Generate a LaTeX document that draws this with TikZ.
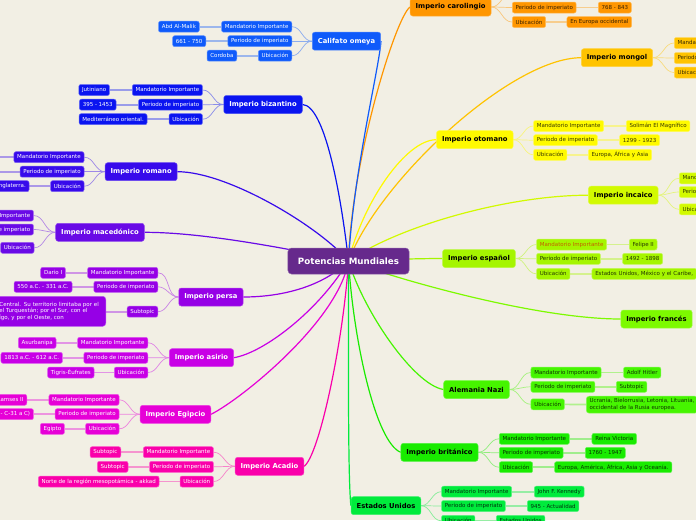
\documentclass[tikz,border=0pt]{standalone}
\usepackage{fontspec}
\setmainfont{DejaVu Sans}
\usetikzlibrary{backgrounds}
\definecolor{bgc}{RGB}{242,239,228}
\definecolor{cCen}{RGB}{102,41,140}
\definecolor{cOme}{RGB}{15,90,250}
\definecolor{cBiz}{RGB}{10,20,240}
\definecolor{cRom}{RGB}{55,10,235}
\definecolor{cMac}{RGB}{105,10,230}
\definecolor{cPer}{RGB}{150,0,230}
\definecolor{cAsi}{RGB}{200,0,230}
\definecolor{cEgi}{RGB}{230,0,215}
\definecolor{cAca}{RGB}{250,0,170}
\definecolor{cCar}{RGB}{255,150,0}
\definecolor{cMon}{RGB}{255,195,0}
\definecolor{cOto}{RGB}{255,250,0}
\definecolor{cInc}{RGB}{210,250,0}
\definecolor{cEsp}{RGB}{165,245,0}
\definecolor{cFra}{RGB}{125,250,0}
\definecolor{cAle}{RGB}{70,245,0}
\definecolor{cBri}{RGB}{25,235,0}
\definecolor{cEEU}{RGB}{0,235,60}
\definecolor{cOrT}{RGB}{195,95,0}
\begin{document}
\begin{tikzpicture}[x=1pt,y=-1pt,
  mainbox/.style={fill=#1, draw=#1!75!white, line width=0.5pt, rounded corners=2.5pt,
    font=\fontsize{6.8}{8}\selectfont\bfseries, minimum height=18pt, inner xsep=5.5pt, inner ysep=1pt},
  subbox/.style={fill=#1, draw=#1!65!white, line width=0.5pt, rounded corners=2pt,
    font=\fontsize{5.5}{6.7}\selectfont, minimum height=11pt, inner xsep=3.3pt, inner ysep=1pt},
  cen/.style={fill=cCen, draw=cCen!75!white, line width=0.5pt, rounded corners=3.5pt, text=white,
    font=\fontsize{8.7}{10}\selectfont\bfseries, minimum height=26pt, inner xsep=10pt},
  Lm/.style={mainbox=#1, text=white},
  Ls/.style={subbox=#1, text=white, anchor=east},
  Rm/.style={mainbox=#1, text=black},
  Rs/.style={subbox=#1, text=black!78!#1, anchor=west},
  mainline/.style={draw=#1, line width=1.2pt},
  subline/.style={draw=#1!45!bgc, line width=0.7pt},
  leafline/.style={draw=#1!38!bgc, line width=1.7pt}
]
\useasboundingbox (0,0) rectangle (696,520);

\node[cen] (c) at (348.5,261) {Potencias Mundiales};

% ---------- left side ----------
\node[Lm=cOme] (co) at (346.5,41.2) {Califato omeya};
\node[Ls=cOme] (co1) at (292,26.7) {Mandatorio Importante};
\node[Ls=cOme] (co2) at (292,41.2) {Periodo de imperiato};
\node[Ls=cOme] (co3) at (292,55.7) {Ubicación};
\node[Ls=cOme] (co1l) at (199.5,26.7) {Abd Al-Malik};
\node[Ls=cOme] (co2l) at (206,41.2) {661 - 750};
\node[Ls=cOme] (co3l) at (237,55.7) {Cordoba};

\node[Lm=cBiz] (bz) at (263,104.5) {Imperio bizantino};
\node[Ls=cBiz] (bz1) at (202.7,90) {Mandatorio Importante};
\node[Ls=cBiz] (bz2) at (202.7,104.7) {Periodo de imperiato};
\node[Ls=cBiz] (bz3) at (202.7,119.2) {Ubicación};
\node[Ls=cBiz] (bz1l) at (109.7,90) {Jutiniano};
\node[Ls=cBiz] (bz2l) at (116.3,104.7) {395 - 1453};
\node[Ls=cBiz] (bz3l) at (147.3,119.2) {Mediterráneo oriental.};

\node[Lm=cRom] (ro) at (141.2,171.7) {Imperio romano};
\node[Ls=cRom] (ro1) at (84.3,157.2) {Mandatorio Importante};
\node[Ls=cRom] (ro2) at (84.3,171.7) {Periodo de imperiato};
\node[Ls=cRom] (ro3) at (84.3,186.2) {Ubicación};
\coordinate (ro1l) at (-10,157.2);
\coordinate (ro2l) at (-10,171.7);
\node[Ls=cRom] (ro3l) at (29.3,186.2) {Inglaterra.};

\node[Lm=cMac] (ma) at (100,232.3) {Imperio macedónico};
\node[Ls=cMac] (ma1) at (33.7,215.5) {Mandatorio Importante};
\node[Ls=cMac] (ma2) at (33.7,229.5) {Periodo de imperiato};
\node[Ls=cMac] (ma3) at (34.3,247.8) {Ubicación};

\node[Lm=cPer] (pe) at (210.9,297) {Imperio persa};
\node[Ls=cPer] (pe1) at (158,272.8) {Mandatorio Importante};
\node[Ls=cPer] (pe2) at (158,286.8) {Periodo de imperiato};
\node[Ls=cPer] (pe3) at (158,311.7) {Subtopic};
\node[Ls=cPer] (pe1l) at (65.7,272.8) {Dario I};
\node[Ls=cPer] (pe2l) at (72.3,286.8) {550 a.C. - 331 a.C.};
\node[Ls=cPer, text width=103pt, align=left, minimum height=30pt, rounded corners=3pt] (pe3l) at (106,311.3)
  {Central. Su territorio limitaba por el\\ el Turquestán; por el Sur, con el\\ígo, y por el Oeste, con};

\node[Lm=cAsi] (as) at (201.5,357.7) {Imperio asirio};
\node[Ls=cAsi] (as1) at (148,342.8) {Mandatorio Importante};
\node[Ls=cAsi] (as2) at (148,357.8) {Periodo de imperiato};
\node[Ls=cAsi] (as3) at (148,372.5) {Ubicación};
\node[Ls=cAsi] (as1l) at (56.3,342.8) {Asurbanipa};
\node[Ls=cAsi] (as2l) at (62.7,357.8) {1813 a.C. - 612 a.C.};
\node[Ls=cAsi] (as3l) at (94.3,372.5) {Tigris-Éufrates};

\node[Lm=cEgi] (eg) at (175.5,414.3) {Imperio Egipcio};
\node[Ls=cEgi] (eg1) at (119.3,399.8) {Mandatorio Importante};
\node[Ls=cEgi] (eg2) at (119.3,414.2) {Periodo de imperiato};
\node[Ls=cEgi] (eg3) at (119.3,428.8) {Ubicación};
\node[Ls=cEgi] (eg1l) at (27,399.8) {Ramses II};
\node[Ls=cEgi] (eg2l) at (33.7,414.2) {- C-31 a C)};
\node[Ls=cEgi] (eg3l) at (64.7,428.8) {Egipto};

\node[Lm=cAca] (ac) at (269.5,466.3) {Imperio Acadio};
\node[Ls=cAca] (ac1) at (213.7,452.2) {Mandatorio Importante};
\node[Ls=cAca] (ac2) at (213.7,466.8) {Periodo de imperiato};
\node[Ls=cAca] (ac3) at (213.7,481.5) {Ubicación};
\node[Ls=cAca] (ac1l) at (121,452.2) {Subtopic};
\node[Ls=cAca] (ac2l) at (128.3,466.8) {Subtopic};
\node[Ls=cAca] (ac3l) at (159.3,481.5) {Norte de la región mesopotámica - akkad};

% ---------- right side ----------
\node[Rm=cCar] (ca) at (450.6,7) {Imperio carolingio};
\node[Rs=cCar] (ca1) at (512,-7) {Mandatorio Importante};
\node[Rs=cCar] (ca2) at (512,7.5) {Periodo de imperiato};
\node[Rs=cCar] (ca3) at (512,22) {Ubicación};
\node[Rs=cCar] (ca2l) at (598,7.5) {768 - 843};
\node[Rs=cCar] (ca3l) at (566.7,22) {En Europa occidental};

\node[Rm=cMon] (mo) at (617,57.7) {Imperio mongol};
\node[Rs=cMon] (mo1) at (674,43) {Mandatorio Importante};
\node[Rs=cMon] (mo2) at (674,58) {Periodo de imperiato};
\node[Rs=cMon] (mo3) at (674,72.5) {Ubicación};

\node[Rm=cOto] (ot) at (474.8,139.7) {Imperio otomano};
\node[Rs=cOto] (ot1) at (533.3,126) {Mandatorio Importante};
\node[Rs=cOto] (ot2) at (533.3,140.2) {Periodo de imperiato};
\node[Rs=cOto] (ot3) at (533.3,154.8) {Ubicación};
\node[Rs=cOto] (ot1l) at (626,126) {Solimán El Magnífico};
\node[Rs=cOto] (ot2l) at (619.3,140.2) {1299 - 1923};
\node[Rs=cOto] (ot3l) at (588,154.8) {Europa, África y Asia};

\node[Rm=cInc] (ic) at (623.3,195.2) {Imperio incaico};
\node[Rs=cInc] (ic1) at (679,178.3) {Mandatorio Importante};
\node[Rs=cInc] (ic2) at (679,192) {Periodo de imperiato};
\node[Rs=cInc] (ic3) at (679,209.3) {Ubicación};

\node[Rm=cEsp] (es) at (479,258.5) {Imperio español};
\node[Rs=cEsp, text=cOrT] (es1) at (536.3,244.5) {Mandatorio Importante};
\node[Rs=cEsp] (es2) at (536.3,258.8) {Periodo de imperiato};
\node[Rs=cEsp] (es3) at (536.3,273.8) {Ubicación};
\node[Rs=cEsp] (es1l) at (629,244.5) {Felipe II};
\node[Rs=cEsp] (es2l) at (622.3,258.8) {1492 - 1898};
\node[Rs=cEsp] (es3l) at (591.7,273.8) {Estados Unidos, México y el Caribe,};

\node[Rm=cFra] (fr) at (656.5,319) {Imperio francés};

\node[Rm=cAle] (al) at (476.5,389.5) {Alemania Nazi};
\node[Rs=cAle] (al1) at (530.7,372.5) {Mandatorio Importante};
\node[Rs=cAle] (al2) at (530.7,386.8) {Periodo de imperiato};
\node[Rs=cAle] (al3) at (530.7,404.3) {Ubicación};
\node[Rs=cAle] (al1l) at (623.3,372.5) {Adolf Hitler};
\node[Rs=cAle] (al2l) at (616,386.8) {Subtopic};
\node[Rs=cAle, align=left, minimum height=17pt, rounded corners=3pt] (al3l) at (586,404.7)
  {Ucrania, Bielorrusia, Letonia, Lituania,\\occidental de la Rusia europea.};

\node[Rm=cBri] (br) at (439.5,452.3) {Imperio británico};
\node[Rs=cBri] (br1) at (499,438.8) {Mandatorio Importante};
\node[Rs=cBri] (br2) at (499,452.8) {Periodo de imperiato};
\node[Rs=cBri] (br3) at (499,467.2) {Ubicación};
\node[Rs=cBri] (br1l) at (591.7,438.8) {Reina Victoria};
\node[Rs=cBri] (br2l) at (585,452.8) {1760 - 1947};
\node[Rs=cBri] (br3l) at (554.3,467.2) {Europa, América, África, Asia y Oceanía.};

\node[Rm=cEEU] (eu) at (386,505.7) {Estados Unidos};
\node[Rs=cEEU] (eu1) at (441.3,491.7) {Mandatorio Importante};
\node[Rs=cEEU] (eu2) at (441.3,506) {Periodo de imperiato};
\node[Rs=cEEU] (eu3) at (441.3,520.8) {Ubicación};
\node[Rs=cEEU] (eu1l) at (534,491.7) {John F. Kennedy};
\node[Rs=cEEU] (eu2l) at (527,506) {945 - Actualidad};
\node[Rs=cEEU] (eu3l) at (496,520.8) {Estados Unidos};

\begin{pgfonlayer}{background}
\fill[bgc] (0,0) rectangle (696,520);
% main connectors
\draw[mainline=cCar] (c.center) .. controls +(3,-100) and +(-15,12) .. (ca.west);
\draw[mainline=cOme] (c.center) .. controls +(5,-90) and +(-2,28) .. (co.east);
\draw[mainline=cMon] (c.center) .. controls +(30,-80) and +(-70,0) .. (mo.west);
\draw[mainline=cBiz] (c.center) .. controls +(-8,-70) and +(22,1) .. (bz.east);
\draw[mainline=cOto] (c.center) .. controls +(15,-60) and +(-30,0) .. (ot.west);
\draw[mainline=cInc] (c.center) .. controls +(50,-35) and +(-80,0) .. (ic.west);
\draw[mainline=cRom] (c.center) .. controls +(-30,-35) and +(50,0) .. (ro.east);
\draw[mainline=cMac] (c.center) .. controls +(-60,-12) and +(60,0) .. (ma.east);
\draw[mainline=cEsp] (c.center) .. controls +(30,-1) and +(-30,0) .. (es.west);
\draw[mainline=cPer] (c.center) .. controls +(-25,25) and +(40,0) .. (pe.east);
\draw[mainline=cFra] (c.center) .. controls +(60,22) and +(-80,0) .. (fr.west);
\draw[mainline=cAsi] (c.center) .. controls +(-30,50) and +(30,-5) .. (as.east);
\draw[mainline=cAle] (c.center) .. controls +(15,50) and +(-30,-5) .. (al.west);
\draw[mainline=cEgi] (c.center) .. controls +(-10,60) and +(30,-15) .. (eg.east);
\draw[mainline=cBri] (c.center) .. controls +(5,80) and +(-25,-10) .. (br.west);
\draw[mainline=cAca] (c.center) .. controls +(-5,80) and +(15,-10) .. (ac.east);
\draw[mainline=cEEU] (c.center) .. controls +(0,100) and +(-3,-30) .. (eu.west);
% left children
\foreach \m/\k in {co/cOme,bz/cBiz,ro/cRom,ma/cMac,pe/cPer,as/cAsi,eg/cEgi,ac/cAca}{
  \foreach \i in {1,2,3}{
    \draw[subline=\k] (\m.west) to[out=180,in=0] (\m\i.east);
  }
}
% right children
\foreach \m/\k in {ca/cCar,mo/cMon,ot/cOto,ic/cInc,es/cEsp,al/cAle,br/cBri,eu/cEEU}{
  \foreach \i in {1,2,3}{
    \draw[subline=\k] (\m.east) to[out=0,in=180] (\m\i.west);
  }
}
% leaves
\draw[leafline=cOme] (co1) -- (co1l); \draw[leafline=cOme] (co2) -- (co2l); \draw[leafline=cOme] (co3) -- (co3l);
\draw[leafline=cBiz] (bz1) -- (bz1l); \draw[leafline=cBiz] (bz2) -- (bz2l); \draw[leafline=cBiz] (bz3) -- (bz3l);
\draw[leafline=cRom] (ro1) -- (ro1l); \draw[leafline=cRom] (ro2) -- (ro2l); \draw[leafline=cRom] (ro3) -- (ro3l);
\draw[leafline=cPer] (pe1) -- (pe1l); \draw[leafline=cPer] (pe2) -- (pe2l); \draw[leafline=cPer] (pe3) -- (pe3l.east |- pe3);
\draw[leafline=cAsi] (as1) -- (as1l); \draw[leafline=cAsi] (as2) -- (as2l); \draw[leafline=cAsi] (as3) -- (as3l);
\draw[leafline=cEgi] (eg1) -- (eg1l); \draw[leafline=cEgi] (eg2) -- (eg2l); \draw[leafline=cEgi] (eg3) -- (eg3l);
\draw[leafline=cAca] (ac1) -- (ac1l); \draw[leafline=cAca] (ac2) -- (ac2l); \draw[leafline=cAca] (ac3) -- (ac3l);
\draw[leafline=cCar] (ca2) -- (ca2l); \draw[leafline=cCar] (ca3) -- (ca3l);
\draw[leafline=cOto] (ot1) -- (ot1l); \draw[leafline=cOto] (ot2) -- (ot2l); \draw[leafline=cOto] (ot3) -- (ot3l);
\draw[leafline=cEsp] (es1) -- (es1l); \draw[leafline=cEsp] (es2) -- (es2l); \draw[leafline=cEsp] (es3) -- (es3l);
\draw[leafline=cAle] (al1) -- (al1l); \draw[leafline=cAle] (al2) -- (al2l); \draw[leafline=cAle] (al3) -- (al3l);
\draw[leafline=cBri] (br1) -- (br1l); \draw[leafline=cBri] (br2) -- (br2l); \draw[leafline=cBri] (br3) -- (br3l);
\draw[leafline=cEEU] (eu1) -- (eu1l); \draw[leafline=cEEU] (eu2) -- (eu2l); \draw[leafline=cEEU] (eu3) -- (eu3l);
\end{pgfonlayer}
\end{tikzpicture}
\end{document}
